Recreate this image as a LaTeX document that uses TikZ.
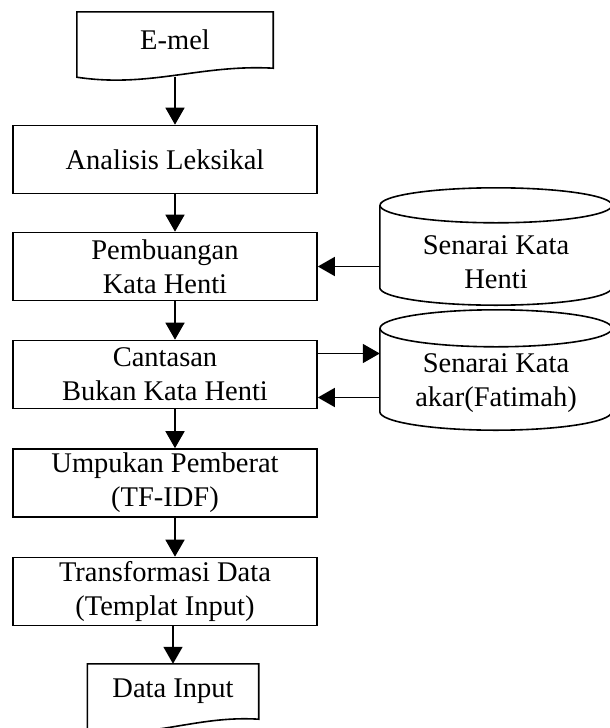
\documentclass[tikz,border=0pt]{standalone}
\usepackage{fontspec}
\setmainfont{Liberation Serif}
\usetikzlibrary{arrows.meta,calc}

\tikzstyle{pS}=[rectangle,draw,line width=1.6pt,minimum width=304pt,minimum height=68pt,inner sep=0pt,align=center,font=\fontsize{28.5}{34}\selectfont]
\tikzstyle{dS}=[rectangle,minimum height=56pt,inner sep=0pt,align=center,font=\fontsize{28.5}{34}\selectfont]
\tikzstyle{cS}=[rectangle,minimum width=232pt,inner sep=0pt,align=center,font=\fontsize{28.5}{34}\selectfont]
\tikzstyle{lS}=[line width=1.6pt]
\tikzstyle{aS}=[line width=1.6pt,-{Triangle[width=19pt,length=17pt]}]

\begin{document}
\begin{tikzpicture}[x=1pt,y=1pt]
                \useasboundingbox (0,0) rectangle (610,-728);
                \draw (175,-40) node[dS,minimum width=196pt] (e) {E-mel};
                \draw (165,-159.5) node[pS] (n1) {Analisis Leksikal};
                \draw (165,-266.5) node[pS] (n2) {Pembuangan\\Kata Henti};
                \draw (165,-374.5) node[pS] (n3) {Cantasan\\Bukan Kata Henti};
                \draw (165,-483) node[pS] (n4) {Umpukan Pemberat\\(TF-IDF)};
                \draw (165,-591.5) node[pS] (n5) {Transformasi Data\\(Templat Input)};
                \draw (173,-691.5) node[dS,minimum width=171pt,minimum height=55pt] (d) {Data Input};
                \draw (496,-262) node[cS,minimum height=86pt] (c1) {Senarai Kata\\Henti};
                \draw (496,-383) node[cS,minimum height=94pt] (c2) {Senarai Kata\\akar(Fatimah)};
                % document outlines
                \draw[lS] (e.north west) -- (e.north east) -- (e.south east)
                    .. controls +(-73,4) and +(73,-11) .. ($(e.south west)+(0,-9)$) -- cycle;
                \draw[lS] (d.north west) -- (d.north east) -- (d.south east)
                    .. controls +(-64,4) and +(64,-11) .. ($(d.south west)+(0,-10)$) -- cycle;
                % cylinders
                \draw[lS] ($(c1.north)+(0,13.5)$) ellipse [x radius=116, y radius=17.5];
                \draw[lS] ($(c1.north west)+(0,13.5)$) -- ($(c1.south west)+(0,17.5)$)
                    arc[start angle=180, end angle=360, x radius=116, y radius=17.5] -- ($(c1.north east)+(0,13.5)$);
                \draw[lS] ($(c2.north)+(0,7.5)$) ellipse [x radius=116, y radius=18.5];
                \draw[lS] ($(c2.north west)+(0,7.5)$) -- ($(c2.south west)+(0,18.5)$)
                    arc[start angle=180, end angle=360, x radius=116, y radius=18.5] -- ($(c2.north east)+(0,7.5)$);
                \coordinate (t1) at ([yshift=21pt]n3.east);
                \coordinate (t2) at ([yshift=-23pt]n3.east);
                \path
                    ([yshift=-9pt]e.south) edge[aS] ([xshift=10pt]n1.north)
                    ([xshift=10pt]n1.south) edge[aS] ([xshift=10pt]n2.north)
                    ([xshift=10pt]n2.south) edge[aS] ([xshift=10pt]n3.north)
                    ([xshift=10pt]n3.south) edge[aS] ([xshift=10pt]n4.north)
                    ([xshift=10pt]n4.south) edge[aS] ([xshift=10pt]n5.north)
                    ([xshift=8pt]n5.south) edge[aS] (d.north)
                    (c1.west |- n2.east) edge[aS] (n2.east)
                    (t1) edge[aS] (t1 -| c2.west)
                    (t2 -| c2.west) edge[aS] (t2)
                ;
        \end{tikzpicture}
\end{document}
